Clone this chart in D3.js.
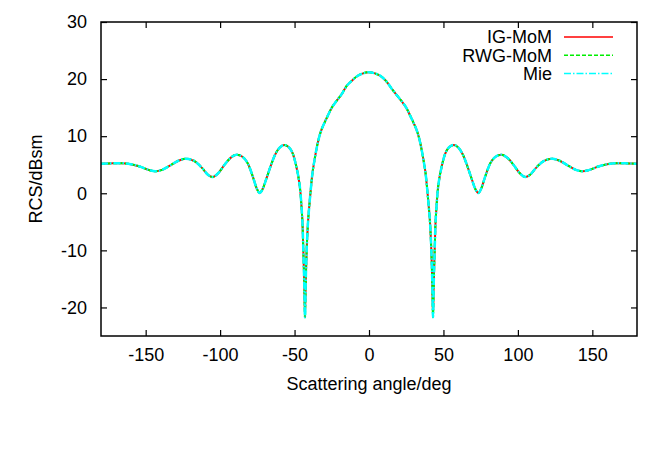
<!DOCTYPE html>
<html>
<head>
<meta charset="utf-8">
<script src="https://cdn.jsdelivr.net/npm/d3@7"></script>
<style>
  body { margin: 0; background: #fff; }
  text { font-family: "Liberation Sans", Arial, Helvetica, sans-serif; }
</style>
</head>
<body>
<div id="chart"></div>
<script>
// scattering angle (deg) and bistatic RCS (dBsm)
var angles = [-180, -176, -172, -166, -160, -154, -148, -143.5, -139, -134, -128, -123, -117, -112, -108, -105,
  -101, -97, -93, -89, -85, -81, -78, -75.5, -73.5, -71.5, -69, -66, -63, -60, -57, -54, -51, -48.5, -47.5,
  -46, -45.3, -44.6, -44, -43.5, -43, -42.5, -42, -41, -40.2, -39.2, -38, -37, -35.6, -34, -32.5, -30, -28,
  -25, -22, -18, -15, -12, -8, -4, 0,
  4, 8, 12, 15, 18, 22, 25, 28, 30, 32.5, 34, 35.6, 37, 38, 39.2, 40.2, 41, 42, 42.5, 43, 43.5, 44, 44.6,
  45.3, 46, 47.5, 48.5, 51, 54, 57, 60, 63, 66, 69, 71.5, 73.5, 75.5, 78, 81, 85, 89, 93, 97, 101, 105, 108,
  112, 117, 123, 128, 134, 139, 143.5, 148, 154, 160, 166, 172, 176, 180];

var rcsMie = [5.15, 5.2, 5.25, 5.25, 5.1, 4.7, 4.1, 3.85, 4.1, 4.8, 5.7, 6.05, 5.6, 4.4, 3.2, 2.85,
  3.6, 5.0, 6.2, 6.75, 6.4, 5.0, 2.9, 0.9, 0.05, 0.7, 2.5, 4.8, 6.8, 8.0, 8.45, 8.1, 6.8, 4.3, 3.0,
  0.0, -2.5, -5.7, -11.0, -15.5, -21.7, -15.5, -11.0, -5.2, -2.5, 0.4, 3.5, 5.2, 7.3, 9.3, 10.7, 12.3, 13.4,
  15.0, 16.1, 17.5, 18.8, 19.6, 20.5, 21.0, 21.2,
  21.0, 20.5, 19.5, 18.4, 17.4, 16.1, 15.0, 13.4, 12.3, 10.7, 9.3, 7.3, 5.2, 3.5, 0.4, -2.5, -5.2, -11.0, -15.5, -21.7, -15.5, -11.0, -5.7,
  -2.5, 0.0, 3.0, 4.3, 6.8, 8.1, 8.45, 8.0, 6.8, 4.8, 2.5, 0.7, 0.05, 0.9, 2.9, 5.0, 6.4, 6.75, 6.2, 5.0, 3.6, 2.85, 3.2,
  4.4, 5.6, 6.05, 5.7, 4.8, 4.1, 3.85, 4.1, 4.7, 5.1, 5.25, 5.25, 5.2, 5.15];

// the two MoM solutions coincide with the Mie series at this scale
var rcsIG = rcsMie;
var rcsRWG = rcsMie;

var seriesNames = ["IG-MoM", "RWG-MoM", "Mie"];
var xTicks = [-150, -100, -50, 0, 50, 100, 150];
var yTicks = [-20, -10, 0, 10, 20, 30];

var svg = d3.select("#chart").append("svg").attr("width", 664).attr("height", 465),
  margin = {top: 22, right: 27, bottom: 129, left: 101},
  width = +svg.attr("width") - margin.left - margin.right,
  height = +svg.attr("height") - margin.top - margin.bottom,
  g = svg.append("g").attr("transform", "translate(" + margin.left + "," + margin.top + ")");

var x = d3.scaleLinear().domain([-180, 180]).range([0, width]);
var y = d3.scaleLinear().domain([-25, 30]).range([height, 0]);

var styles = [
  {color: "#ff0000", dash: null, w: 2},
  {color: "#00ee00", dash: "4,2", w: 2},
  {color: "#00ffff", dash: "7,2,1.5,2", w: 2.5}
];
var series = [rcsIG, rcsRWG, rcsMie];
var fs = 18;

var line = d3.line()
  .x(function (d) { return x(d[0]); })
  .y(function (d) { return y(d[1]); })
  .curve(d3.curveMonotoneX);

var plot = g.append("g");
series.forEach(function (vals, i) {
  var pts = angles.map(function (a, j) { return [a, vals[j]]; });
  plot.append("path")
    .attr("d", line(pts))
    .attr("fill", "none")
    .attr("stroke", styles[i].color)
    .attr("stroke-width", styles[i].w)
    .attr("stroke-dasharray", styles[i].dash);
});

// gnuplot-style axes: ticks inside, mirrored, plain hyphen minus
var plain = function (d) { return String(d); };
var tick = 6;
g.append("g").attr("transform", "translate(0," + height + ")")
  .call(d3.axisBottom(x).tickValues(xTicks).tickSizeInner(-tick).tickSizeOuter(0).tickPadding(12).tickFormat(plain));
g.append("g")
  .call(d3.axisTop(x).tickValues(xTicks).tickSizeInner(-tick).tickSizeOuter(0).tickFormat(""));
g.append("g")
  .call(d3.axisLeft(y).tickValues(yTicks).tickSizeInner(-tick).tickSizeOuter(0).tickPadding(14).tickFormat(plain));
g.append("g").attr("transform", "translate(" + width + ",0)")
  .call(d3.axisRight(y).tickValues(yTicks).tickSizeInner(-tick).tickSizeOuter(0).tickFormat(""));

g.selectAll(".domain").remove();
g.selectAll(".tick line").attr("stroke", "#000").attr("stroke-width", 1.2);
g.selectAll(".tick text").attr("font-size", fs).attr("fill", "#000")
  .attr("font-family", "'Liberation Sans', Arial, sans-serif");

g.append("rect").attr("width", width).attr("height", height)
  .attr("fill", "none").attr("stroke", "#000").attr("stroke-width", 1.5);

// axis titles
g.append("text")
  .attr("x", width / 2).attr("y", height + 54)
  .attr("text-anchor", "middle").attr("font-size", fs)
  .text("Scattering angle/deg");
g.append("text")
  .attr("transform", "translate(" + (-59) + "," + (height / 2) + ") rotate(-90)")
  .attr("text-anchor", "middle").attr("font-size", fs)
  .text("RCS/dBsm");

// legend
var legend = g.selectAll(".legend")
  .data(seriesNames)
  .enter().append("g")
  .attr("class", "legend")
  .attr("transform", function (d, i) { return "translate(0," + (15 + i * 18.3) + ")"; });

legend.append("text")
  .attr("x", 451).attr("y", 0).attr("dy", "0.35em")
  .attr("text-anchor", "end").attr("font-size", fs)
  .text(function (d) { return d; });

legend.append("line")
  .attr("x1", 463).attr("x2", 512)
  .attr("stroke", function (d, i) { return styles[i].color; })
  .attr("stroke-width", 1.5)
  .attr("stroke-dasharray", function (d, i) { return styles[i].dash; });
</script>
</body>
</html>
